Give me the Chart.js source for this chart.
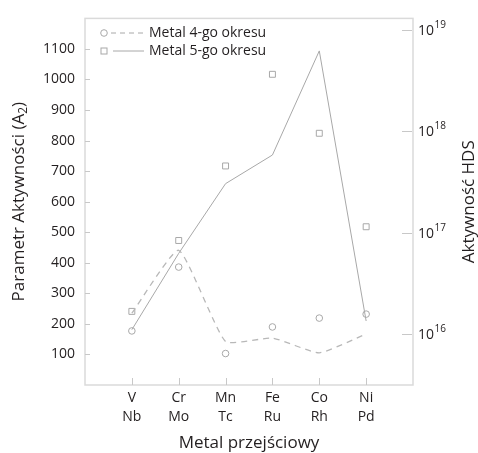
<!DOCTYPE html>
<html><head><meta charset="utf-8">
<script src="https://cdn.jsdelivr.net/npm/chart.js@4/dist/chart.umd.min.js"></script>
<style>html,body{margin:0;padding:0;background:#fff}#wrap{width:478px;height:453px}</style>
</head><body><div id="wrap"><canvas id="c"></canvas></div>
<script>
// ---- data ----
const period4 = ['V', 'Cr', 'Mn', 'Fe', 'Co', 'Ni'];
const period5 = ['Nb', 'Mo', 'Tc', 'Ru', 'Rh', 'Pd'];
const a2Period4 = [177, 386, 103, 190, 219, 232];      // circles (left axis)
const a2Period5 = [241, 473, 717, 1017, 824, 518];     // squares (left axis)
const hdsPeriod4 = [1.6e16, 6.7e16, 8.4e15, 9.1e15, 6.5e15, 1.0e16];   // dashed (right axis)
const hdsPeriod5 = [1.1e16, 6.25e16, 3.05e17, 5.85e17, 6.25e18, 1.34e16]; // solid (right axis)
const a2Ticks = [100, 200, 300, 400, 500, 600, 700, 800, 900, 1000, 1100];
const hdsTicks = [1e16, 1e17, 1e18, 1e19];
const hdsTickExp = ['16', '17', '18', '19'];
const legendLabels = ['Metal 4-go okresu', 'Metal 5-go okresu'];
const xTitle = 'Metal przejściowy';
const yLeftTitle = ['Parametr Aktywności (A', '2', ')'];
const yRightTitle = 'Aktywność HDS';

const FONT = "'Open Sans', sans-serif";
const TXT = '#231f20';
const MARK = '#a8a8a8';
const FRAME = '#dadada';

const labels = ['', ...period4.map((m, i) => [m, period5[i]]), ''];
const pad = arr => [null, ...arr, null];

const deco = {
  id: 'deco',
  beforeDatasetsDraw(chart) {
    const {ctx, chartArea: a, scales} = chart;
    ctx.save();
    ctx.strokeStyle = FRAME;
    ctx.lineWidth = 1.5;
    ctx.strokeRect(a.left, a.top, a.right - a.left, a.bottom - a.top);
    ctx.strokeStyle = '#c8c8c8';
    ctx.lineWidth = 1;
    ctx.beginPath();
    a2Ticks.forEach(v => {
      const y = Math.round(scales.yA.getPixelForValue(v)) + 0.5;
      ctx.moveTo(a.left, y); ctx.lineTo(a.left + 5, y);
    });
    hdsTicks.forEach(v => {
      const y = Math.round(scales.yH.getPixelForValue(v)) + 0.5;
      ctx.moveTo(a.right - 11, y); ctx.lineTo(a.right - 1, y);
    });
    for (let i = 1; i <= period4.length; i++) {
      const x = Math.round(scales.x.getPixelForValue(i)) + 0.5;
      ctx.moveTo(x, a.bottom); ctx.lineTo(x, a.bottom - 7);
    }
    ctx.stroke();
    ctx.restore();
  },
  afterDraw(chart) {
    const {ctx, chartArea: a, scales} = chart;
    ctx.save();
    ctx.fillStyle = TXT;
    ctx.textBaseline = 'middle';
    // right tick labels 10^n
    hdsTicks.forEach((v, i) => {
      const y = scales.yH.getPixelForValue(v);
      ctx.font = '14px ' + FONT;
      ctx.textAlign = 'left';
      ctx.fillText('10', a.right + 5, y + 1);
      const w = ctx.measureText('10').width;
      ctx.font = '10px ' + FONT;
      ctx.fillText(hdsTickExp[i], a.right + 5 + w + 0.5, y - 5);
    });
    // right title (reads bottom-to-top)
    ctx.save();
    ctx.translate(469, (a.top + a.bottom) / 2);
    ctx.rotate(-Math.PI / 2);
    ctx.font = '17px ' + FONT;
    ctx.textAlign = 'center';
    ctx.fillText(yRightTitle, 0, 0);
    ctx.restore();
    // left title with subscript
    ctx.save();
    ctx.translate(19, (a.top + a.bottom) / 2);
    ctx.rotate(-Math.PI / 2);
    ctx.textAlign = 'left';
    ctx.font = '17px ' + FONT;
    const w0 = ctx.measureText(yLeftTitle[0]).width;
    const w2 = ctx.measureText(yLeftTitle[2]).width;
    ctx.font = '12px ' + FONT;
    const w1 = ctx.measureText(yLeftTitle[1]).width;
    let x0 = -(w0 + w1 + w2) / 2;
    ctx.font = '17px ' + FONT;
    ctx.fillText(yLeftTitle[0], x0, 0);
    ctx.font = '12px ' + FONT;
    ctx.fillText(yLeftTitle[1], x0 + w0, 5);
    ctx.font = '17px ' + FONT;
    ctx.fillText(yLeftTitle[2], x0 + w0 + w1, 0);
    ctx.restore();
    // legend
    ctx.font = '14px ' + FONT;
    ctx.textAlign = 'left';
    const ly = [33, 51];
    ctx.strokeStyle = MARK;
    ctx.lineWidth = 1;
    ctx.beginPath(); ctx.arc(104, ly[0], 3.3, 0, Math.PI * 2); ctx.stroke();
    ctx.setLineDash([5, 4]);
    ctx.beginPath(); ctx.moveTo(111, ly[0]); ctx.lineTo(144, ly[0]); ctx.stroke();
    ctx.setLineDash([]);
    ctx.strokeRect(101, ly[1] - 3, 6, 6);
    ctx.beginPath(); ctx.moveTo(113, ly[1]); ctx.lineTo(144, ly[1]); ctx.stroke();
    ctx.fillStyle = TXT;
    ctx.fillText(legendLabels[0], 149, ly[0]);
    ctx.fillText(legendLabels[1], 149, ly[1]);
    ctx.restore();
  }
};

new Chart(document.getElementById('c'), {
  type: 'line',
  data: {
    labels,
    datasets: [
      { label: legendLabels[0] + ' HDS', data: pad(hdsPeriod4), yAxisID: 'yH',
        borderColor: '#b8b8b8', borderWidth: 1.3, borderDash: [6, 5], pointRadius: 0, tension: 0.15, fill: false },
      { label: legendLabels[1] + ' HDS', data: pad(hdsPeriod5), yAxisID: 'yH',
        borderColor: MARK, borderWidth: 1, pointRadius: 0, tension: 0, fill: false },
      { label: legendLabels[0], data: pad(a2Period4), yAxisID: 'yA', showLine: false,
        pointStyle: 'circle', pointRadius: 3.3, pointBorderColor: MARK, pointBackgroundColor: 'rgba(255,255,255,0)', pointBorderWidth: 1 },
      { label: legendLabels[1], data: pad(a2Period5), yAxisID: 'yA', showLine: false,
        pointStyle: 'rect', pointRadius: 4.2, pointBorderColor: MARK, pointBackgroundColor: 'rgba(255,255,255,0)', pointBorderWidth: 1 }
    ]
  },
  options: {
    responsive: true, maintainAspectRatio: false, animation: false,
    layout: { padding: { top: 12, left: 0, right: 0, bottom: 0 } },
    plugins: { legend: { display: false }, tooltip: { enabled: false } },
    scales: {
      x: {
        type: 'category', offset: false,
        grid: { display: false, drawTicks: false }, border: { display: false },
        ticks: { color: TXT, font: { family: FONT, size: 14, lineHeight: 1.38 }, padding: 3, maxRotation: 0, autoSkip: false },
        title: { display: true, text: xTitle, color: TXT, font: { family: FONT, size: 17 }, padding: { top: 0, bottom: 0 } },
        afterFit: s => { s.height = 68; }
      },
      yA: {
        type: 'linear', position: 'left', min: 0, max: 1200,
        afterBuildTicks: s => { s.ticks = a2Ticks.map(v => ({ value: v })); },
        grid: { display: false, drawTicks: false }, border: { display: false },
        ticks: { color: TXT, font: { family: FONT, size: 14 }, padding: 10, callback: v => String(v) },
        afterFit: s => { s.width = 85; }
      },
      yH: {
        type: 'logarithmic', position: 'right', min: Math.pow(10, 15.495), max: Math.pow(10, 19.117),
        afterBuildTicks: s => { s.ticks = hdsTicks.map(v => ({ value: v })); },
        grid: { display: false, drawTicks: false }, border: { display: false },
        ticks: { display: false },
        afterFit: s => { s.width = 65; }
      }
    }
  },
  plugins: [deco]
});
</script>
</body></html>
